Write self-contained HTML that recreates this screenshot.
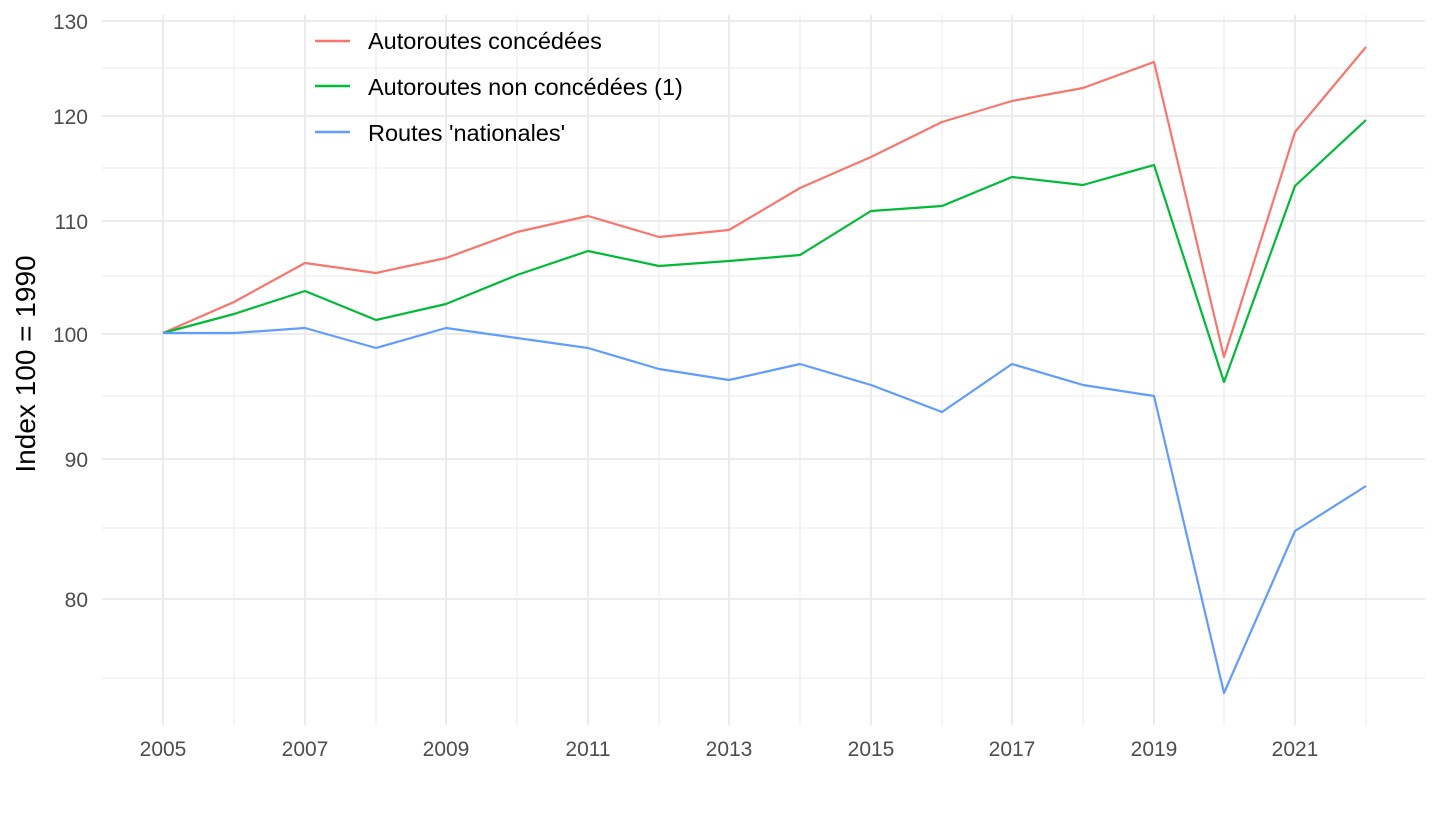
<!DOCTYPE html>
<html><head><meta charset="utf-8"><style>
body{margin:0;background:#fff;}
text{font-family:"Liberation Sans",sans-serif;}
</style></head><body>
<svg width="1440" height="810" xmlns="http://www.w3.org/2000/svg">
<rect width="1440" height="810" fill="#fff"/>
<g stroke="#ebebeb" stroke-width="1">
<line x1="102" x2="1425" y1="68" y2="68"/>
<line x1="102" x2="1425" y1="168" y2="168"/>
<line x1="102" x2="1425" y1="276" y2="276"/>
<line x1="102" x2="1425" y1="396" y2="396"/>
<line x1="102" x2="1425" y1="528" y2="528"/>
<line x1="102" x2="1425" y1="678" y2="678"/>
<line x1="234" x2="234" y1="15" y2="725"/>
<line x1="376" x2="376" y1="15" y2="725"/>
<line x1="517" x2="517" y1="15" y2="725"/>
<line x1="659" x2="659" y1="15" y2="725"/>
<line x1="800" x2="800" y1="15" y2="725"/>
<line x1="942" x2="942" y1="15" y2="725"/>
<line x1="1083" x2="1083" y1="15" y2="725"/>
<line x1="1224" x2="1224" y1="15" y2="725"/>
<line x1="1366" x2="1366" y1="15" y2="725"/>
</g>
<g stroke="#ebebeb" stroke-width="2">
<line x1="102" x2="1425" y1="21" y2="21"/>
<line x1="102" x2="1425" y1="116" y2="116"/>
<line x1="102" x2="1425" y1="221" y2="221"/>
<line x1="102" x2="1425" y1="334" y2="334"/>
<line x1="102" x2="1425" y1="459" y2="459"/>
<line x1="102" x2="1425" y1="599" y2="599"/>
<line x1="163" x2="163" y1="15" y2="725"/>
<line x1="305" x2="305" y1="15" y2="725"/>
<line x1="446" x2="446" y1="15" y2="725"/>
<line x1="588" x2="588" y1="15" y2="725"/>
<line x1="729" x2="729" y1="15" y2="725"/>
<line x1="871" x2="871" y1="15" y2="725"/>
<line x1="1012" x2="1012" y1="15" y2="725"/>
<line x1="1154" x2="1154" y1="15" y2="725"/>
<line x1="1295" x2="1295" y1="15" y2="725"/>
</g>
<g font-size="21" fill="#4d4d4d" text-anchor="end">
<text x="88" y="29">130</text>
<text x="88" y="124">120</text>
<text x="88" y="229">110</text>
<text x="88" y="342">100</text>
<text x="88" y="467">90</text>
<text x="88" y="607">80</text>
</g>
<g font-size="21" fill="#4d4d4d" text-anchor="middle">
<text x="163" y="756">2005</text>
<text x="305" y="756">2007</text>
<text x="446" y="756">2009</text>
<text x="588" y="756">2011</text>
<text x="729" y="756">2013</text>
<text x="871" y="756">2015</text>
<text x="1012" y="756">2017</text>
<text x="1154" y="756">2019</text>
<text x="1295" y="756">2021</text>
</g>
<text transform="translate(35,364) rotate(-90)" font-size="28" fill="#000" text-anchor="middle">Index 100 = 1990</text>
<g fill="none" stroke-width="2.2" stroke-linejoin="round">
<polyline stroke="#f8766d" points="163,333 234,302 305,263 376,273 446,258 517,232 588,216 659,237 729,230 800,188 871,157 942,122 1012,101 1083,88 1154,62 1224,357 1295,132 1366,47"/>
<polyline stroke="#00ba38" points="163,333 234,314 305,291 376,320 446,304 517,275 588,251 659,266 729,261 800,255 871,211 942,206 1012,177 1083,185 1154,165 1224,382 1295,186 1366,120"/>
<polyline stroke="#619cff" points="163,333 234,333 305,328 376,348 446,328 517,338 588,348 659,369 729,380 800,364 871,385 942,412 1012,364 1083,385 1154,396 1224,693 1295,531 1366,486"/>
</g>
<g stroke-width="2.5">
<line x1="315" x2="350" y1="41" y2="41" stroke="#f8766d"/>
<line x1="315" x2="350" y1="86" y2="86" stroke="#00ba38"/>
<line x1="315" x2="350" y1="132" y2="132" stroke="#619cff"/>
</g>
<g font-size="23.5" fill="#000">
<text x="368" y="49">Autoroutes concédées</text>
<text x="368" y="95">Autoroutes non concédées (1)</text>
<text x="368" y="141">Routes 'nationales'</text>
</g>
</svg>
</body></html>
